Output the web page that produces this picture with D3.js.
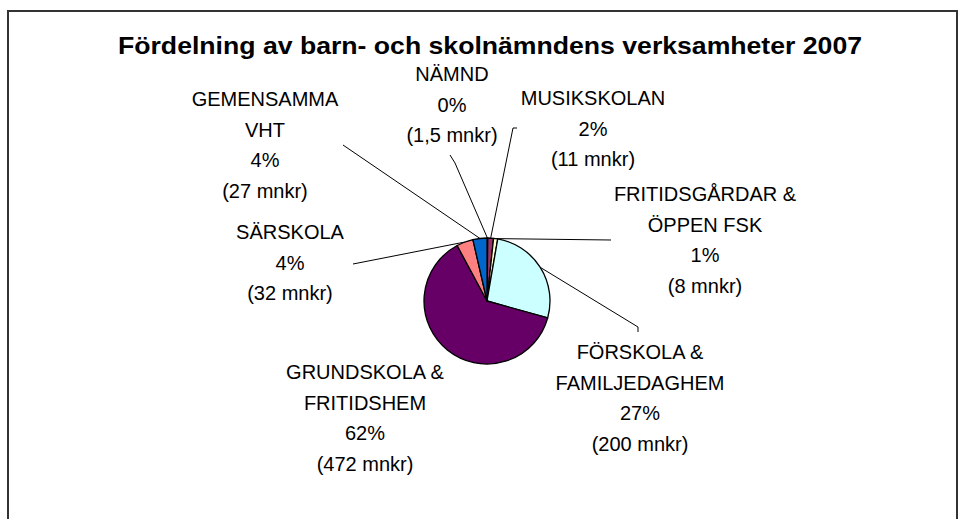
<!DOCTYPE html>
<html>
<head>
<meta charset="utf-8">
<script src="https://cdn.jsdelivr.net/npm/d3@7"></script>
<style>
	body { margin: 0; background: #fff; }
	svg { display: block; font-family: "Liberation Sans", Arial, sans-serif; }
</style>
</head>
<body>
<svg width="958" height="519"></svg>
<script>
// data..........................................................................

var title = "Fördelning av barn- och skolnämndens verksamheter 2007";

var categories = [
	["NÄMND"],
	["MUSIKSKOLAN"],
	["FRITIDSGÅRDAR &", "ÖPPEN FSK"],
	["FÖRSKOLA &", "FAMILJEDAGHEM"],
	["GRUNDSKOLA &", "FRITIDSHEM"],
	["SÄRSKOLA"],
	["GEMENSAMMA", "VHT"]
];
var values = [1.5, 11, 8, 200, 472, 32, 27];
var percentLabels = ["0%", "2%", "1%", "27%", "62%", "4%", "4%"];
var amountLabels = ["(1,5 mnkr)", "(11 mnkr)", "(8 mnkr)", "(200 mnkr)",
	"(472 mnkr)", "(32 mnkr)", "(27 mnkr)"];

var colors = ["#9999ff", "#993366", "#ffffcc", "#ccffff", "#660066", "#ff8080", "#0066cc"];

// layout (label placement as in the original sheet)...............................

var cx = 487, cy = 301, radius = 63, lineStep = 30.5;

var labelPos = [
	[452, 74], [593, 98], [705, 194], [640, 352],
	[365, 372], [290, 232], [265, 99]
];
// label side end of each leader line, with the small tick at the label box
var leaderFrom = [
	[[450, 155], [455, 163]],
	[[517, 128], [513, 128]],
	[[611, 240]],
	[[638, 332], [638, 327]],
	null,
	[[353, 264]],
	[[343, 145]]
];

// drawing.......................................................................

var svg = d3.select("svg");

// chart area border
svg.append("rect")
	.attr("x", 8).attr("y", 11)
	.attr("width", 949).attr("height", 520)
	.attr("fill", "#fff")
	.attr("stroke", "#333")
	.attr("stroke-width", 2);

svg.append("text")
	.attr("x", 490).attr("y", 54)
	.attr("text-anchor", "middle")
	.attr("font-size", 24)
	.attr("font-weight", "bold")
	.attr("textLength", 744)
	.attr("lengthAdjust", "spacingAndGlyphs")
	.text(title);

var pie = d3.pie().sort(null).value(function(d) { return d; }),
	arcs = pie(values),
	arc = d3.arc().innerRadius(0).outerRadius(radius),
	edge = d3.arc().innerRadius(radius).outerRadius(radius);

var g = svg.append("g").attr("transform", "translate(" + cx + "," + cy + ")");

g.selectAll("path")
	.data(arcs)
	.enter().append("path")
		.attr("d", arc)
		.attr("fill", function(d, i) { return colors[i]; })
		.attr("stroke", "#000")
		.attr("stroke-width", 1.3)
		.attr("stroke-linejoin", "round");

// leader lines
var line = d3.line();
svg.append("g").attr("class", "leaders")
	.selectAll("path")
	.data(arcs.filter(function(d, i) { return leaderFrom[i]; }))
	.enter().append("path")
		.attr("fill", "none")
		.attr("stroke", "#000")
		.attr("stroke-width", 1)
		.attr("d", function(d) {
			var c = edge.centroid(d),
				pts = leaderFrom[d.index].slice();
			pts.push([cx + c[0], cy + c[1]]);
			return line(pts);
		});

// labels
var labels = svg.append("g").attr("class", "labels")
	.selectAll("text")
	.data(arcs)
	.enter().append("text")
		.attr("text-anchor", "middle")
		.attr("font-size", 20)
		.attr("fill", "#000");

labels.each(function(d, i) {
	var rows = categories[i].concat([percentLabels[i], amountLabels[i]]),
		t = d3.select(this);
	rows.forEach(function(r, k) {
		t.append("tspan")
			.attr("x", labelPos[i][0])
			.attr("y", labelPos[i][1] + k * lineStep)
			.attr("dy", "0.35em")
			.text(r);
	});
});
</script>
</body>
</html>
